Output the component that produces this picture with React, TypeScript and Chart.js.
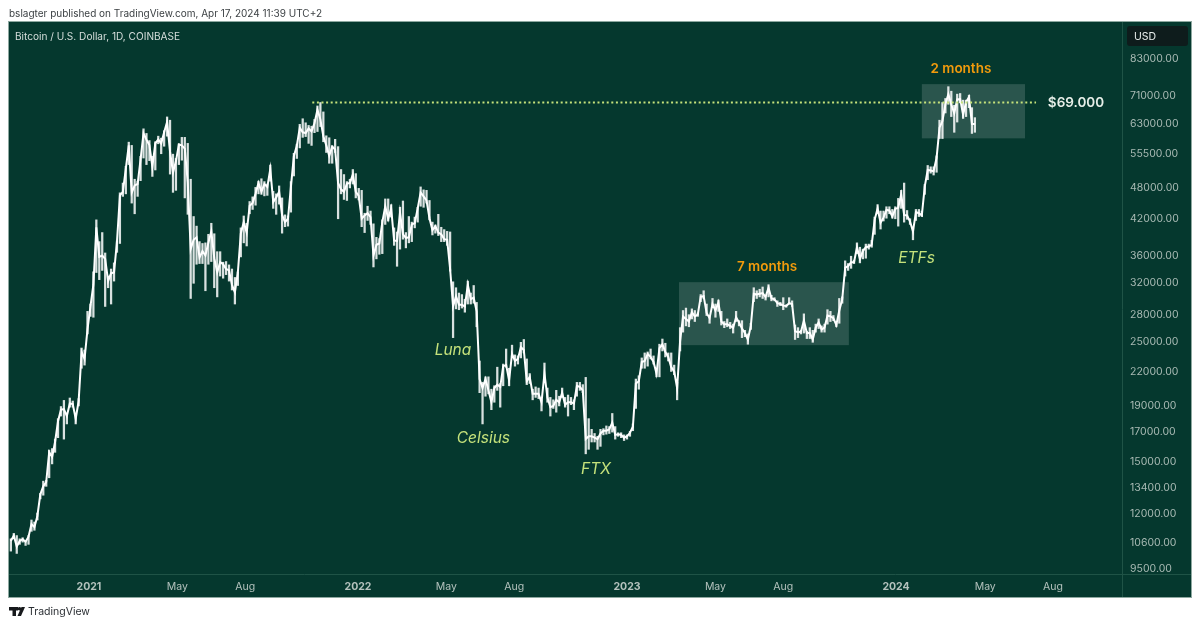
import { useEffect, useRef } from 'react'
import { Chart, registerables } from 'chart.js'

Chart.register(...registerables)

const FONT = 'Inter, "Liberation Sans", sans-serif'
const BG = '#05382e'

// days counted from 2021-01-01, one bar every 4 days, centred on its 4-day bin
const firstDay = -106
const stepDays = 4

const lows = [
  10250, 10800, 10150, 10550, 10650, 10500, 10550, 11150, 11200, 11700, 12800, 13000,
  13500, 14000, 14850, 15600, 16600, 18200, 16500, 17600, 18900, 18900, 17600, 19000, 22300, 22600, 25800, 27800,
  27700, 33500, 32500, 33800, 29000, 31400, 29300, 32300, 36500, 37900, 46300, 46800, 53000, 45000, 43000,
  46300, 49500, 54500, 53000, 53900, 50400, 51800, 57900, 55500, 57300, 59800,
  50900, 47100, 47500, 53000, 54000, 46000, 42900, 30000, 32000, 34700,
  34800, 34800, 31000, 34700, 35100, 31400, 30200, 33000,
  32700, 33200, 32300, 31100, 29300, 31700, 35800, 38000,
  37500, 43000, 43800, 44600, 46800, 46700, 46400,
  46500, 49400, 44000, 42900, 44800, 39600, 40700, 40800,
  43300, 50500, 54400, 56900, 59500, 59700, 58000, 57500,
  60700, 61000, 62300, 58400, 55800, 53300, 53300, 55800,
  42100, 46800, 45700, 45500, 48000, 48800, 46000,
  45600, 40700, 39700, 41800, 41100, 34300, 35500, 36200,
  36300, 41100, 41700, 42400, 37600, 34400, 37000,
  38600, 37200, 38000, 38200, 40500, 41500, 44400,
  44200, 45000, 41900, 39300, 39600, 39200, 38200, 38200,
  37600, 33700, 25400, 28700, 28600, 28800, 28300, 29300,
  29300, 29400, 26600, 20100, 17600, 19800, 20000,
  18700, 19300, 20300, 18900, 20700, 22400, 20700, 23400,
  22500, 22700, 23300, 23800, 20800, 20900, 19500, 19700,
  19600, 18600, 21000, 19300, 18200, 18800, 18500,
  19000, 19700, 18900, 18200, 19100, 18700, 19800, 20300,
  20100, 15500, 15800, 16300, 16300, 15800, 16000,
  16800, 16850, 16900, 17000, 16500, 16700, 16600, 16400,
  16500, 16700, 17100, 18800, 20400, 22300, 22300, 22500,
  23200, 22700, 21500, 21500, 24000, 23400, 23000,
  22000, 21700, 19500, 24000, 26000, 26700, 26600, 27500,
  27200, 27800, 29600, 30000, 27900, 27000, 28900,
  27700, 28400, 26800, 26500, 26600, 26400, 25900, 27200,
  26700, 25400, 25500, 24700, 26300, 29600, 30000,
  30200, 30000, 29800, 30200, 29700, 29700, 29000, 29100,
  28600, 28900, 29300, 29000, 25200, 25400, 25800, 25900,
  25300, 25300, 24900, 26000, 26400, 26000, 26000,
  26900, 27200, 27300, 26600, 27000, 29400, 33000, 33800,
  34100, 34800, 36300, 34900, 35500, 35600, 37000, 37300,
  39400, 43000, 40300, 41700, 42200, 43000, 42200,
  42100, 40800, 44000, 41500, 42000, 41100, 38500, 41800,
  42500, 42500, 46700, 49700, 51100, 50700, 51300,
  59200, 59200, 66000, 68500, 65000, 60800, 63500, 68900,
  64500, 65000, 67500, 60500, 60800,
]

const highs = [
  10800, 11050, 10950, 10800, 10850, 10700, 10950, 11700, 11600, 12050, 13100, 13800,
  13850, 15750, 15850, 16500, 18000, 18950, 19450, 18300, 19650, 19400, 18300, 19600, 24300, 24100, 28400, 29300,
  33600, 41900, 38200, 39700, 36400, 33000, 34000, 34900, 38300, 47000, 49000, 52600, 58300, 57500, 49800,
  49400, 54900, 61700, 60500, 58700, 54900, 58400, 59800, 59300, 61200, 64900,
  64000, 55400, 54400, 57900, 59500, 59500, 58000, 49800, 42500, 40800,
  38200, 37900, 38000, 39400, 41300, 39500, 36600, 36600,
  35000, 35100, 34600, 34000, 32800, 33600, 40500, 42600,
  41300, 45300, 46200, 48100, 49400, 49900, 49300,
  48800, 52900, 47300, 46800, 48400, 46000, 42800, 42600,
  49300, 55600, 57800, 62900, 64400, 63300, 62600, 62400,
  64200, 68000, 69000, 66300, 59900, 59400, 57400, 59000,
  57200, 51900, 50800, 49300, 49800, 51900, 51000,
  47900, 47500, 43100, 44400, 43500, 41200, 38900, 38700,
  41900, 45800, 45800, 44700, 40500, 39800, 44200,
  45400, 39700, 42500, 41500, 42400, 44200, 48200,
  47600, 47500, 45500, 41500, 41000, 42900, 40600, 40200,
  39900, 39800, 32200, 31400, 30700, 30500, 29900, 32300,
  30700, 31700, 29500, 23000, 21000, 21500, 21500,
  20400, 20700, 22400, 20900, 22700, 24200, 22300, 24600,
  23600, 23500, 24900, 25200, 23200, 21800, 20400, 20600,
  20500, 19500, 22800, 20500, 19700, 19500, 20300,
  19800, 20500, 19700, 19900, 19700, 19500, 21000, 21000,
  20800, 21450, 18000, 17200, 16900, 16700, 17200,
  17250, 17450, 17400, 18400, 17400, 16950, 16950, 16800,
  16800, 17050, 17600, 21300, 21600, 23300, 23800, 23900,
  24200, 23500, 22100, 24700, 25250, 24800, 23800,
  23800, 22600, 21000, 26500, 28500, 28800, 28000, 28700,
  28500, 28200, 30500, 31000, 29300, 27900, 30000,
  29300, 29800, 28400, 27200, 27500, 27100, 26900, 28400,
  27300, 27300, 26200, 25800, 27000, 31400, 31000,
  31200, 31500, 30400, 31800, 30400, 30100, 29700, 29500,
  30100, 29200, 30100, 29700, 26800, 26500, 26200, 28100,
  26100, 26500, 26200, 26900, 27500, 26700, 26900,
  28600, 28400, 27900, 27000, 30000, 30200, 35200, 34800,
  35900, 35300, 38000, 37300, 37000, 37800, 37800, 38400,
  42400, 44700, 43500, 43500, 44300, 44300, 43800,
  44300, 45900, 47500, 49000, 43600, 42100, 40500, 43800,
  43800, 43500, 48700, 52800, 52500, 52500, 55000,
  64000, 69000, 70200, 73800, 72400, 68200, 71500, 71700,
  69700, 69700, 71200, 67500, 64700,
]

const closes = [
  10700, 10950, 10450, 10700, 10780, 10670, 10900, 11500, 11350, 11900, 13050, 13500,
  13750, 15600, 15300, 16300, 17800, 18700, 18750, 18200, 19200, 19150, 18000, 19400, 23900, 23200, 26300, 29000,
  31800, 40600, 35800, 36000, 35500, 32300, 33400, 33500, 38200, 46500, 47200, 52100, 57500, 47000, 48500,
  48800, 54200, 60500, 58900, 57600, 52500, 58000, 59000, 58000, 60800, 63500,
  56000, 51200, 53800, 57700, 57500, 56700, 49200, 37000, 38500, 38900,
  35700, 36700, 36000, 38000, 39900, 35600, 33500, 35000,
  34700, 34000, 33800, 31800, 30800, 33500, 39500, 41500,
  39700, 44500, 45000, 46800, 49000, 47200, 48800,
  48200, 52000, 45200, 46100, 47200, 42800, 41500, 42100,
  48200, 54900, 57400, 62000, 60800, 60600, 61800, 61000,
  63200, 66900, 64200, 59800, 57500, 55000, 57200, 56500,
  49000, 47700, 47200, 48900, 49000, 50800, 47200,
  46400, 42100, 42700, 43100, 42400, 36000, 37700, 37900,
  41500, 44400, 42100, 44000, 38400, 38300, 43200,
  39400, 38800, 38900, 41100, 41300, 44000, 47100,
  46300, 45500, 42200, 40100, 40800, 39700, 39400, 38600,
  38500, 34000, 29000, 30300, 29200, 29200, 29000, 31800,
  29900, 30100, 28400, 21300, 20500, 21300, 20300,
  19300, 20500, 20800, 20600, 22500, 22600, 21200, 23700,
  23000, 23200, 24400, 24100, 21100, 21500, 20000, 20000,
  20000, 19300, 21800, 19700, 18900, 19000, 19500,
  19300, 20100, 19100, 19300, 19300, 19200, 20700, 20600,
  20300, 16500, 16700, 16700, 16600, 16500, 16900,
  17100, 17100, 17200, 17700, 16800, 16850, 16800, 16600,
  16700, 16950, 17400, 20900, 21100, 22900, 23000, 23700,
  23400, 22900, 21800, 24300, 24700, 23900, 23400,
  22400, 22000, 20500, 25000, 27800, 27500, 27200, 28300,
  27800, 28000, 30200, 30300, 28200, 27600, 29300,
  28500, 29500, 27200, 26900, 26900, 26700, 26500, 27700,
  27100, 26400, 25900, 25200, 26700, 30600, 30500,
  30600, 30700, 30200, 31400, 30000, 29900, 29400, 29300,
  29100, 29050, 29400, 29300, 26100, 26000, 26050, 27300,
  25900, 25900, 25200, 26500, 27100, 26300, 26500,
  27900, 27800, 27600, 26800, 28500, 29900, 34200, 34400,
  35000, 35000, 37300, 35500, 36700, 37300, 37400, 37700,
  41900, 44000, 41400, 42300, 43700, 43600, 42500,
  43900, 44100, 46700, 42800, 42700, 41600, 39900, 43300,
  43100, 42700, 48300, 51800, 51700, 51500, 54500,
  62000, 63800, 68500, 71500, 68400, 65900, 69900, 70000,
  65500, 69100, 70600, 63000, 63000,
]

const xTickDays = [0, 120, 212, 365, 485, 577, 730, 850, 942, 1095, 1216, 1308]
const xTickLabels = ['2021', 'May', 'Aug', '2022', 'May', 'Aug', '2023', 'May', 'Aug', '2024', 'May', 'Aug']

const yTicks = [83000, 71000, 63000, 55500, 48000, 42000, 36000, 32000, 28000, 25000, 22000, 19000, 17000, 15000, 13400, 12000, 10600, 9500]

// from day, to day, top price, bottom price
const rangeBoxes = [
  [800.5, 1031, 32150, 24600],
  [1130, 1270, 74600, 59250],
]

const levelPrice = 69000
const levelDays = [303, 1285]

const notes = [
  { text: '2 months', day: 1183, price: 79500, color: '#f29b0c', font: `600 13.5px ${FONT}`, align: 'center' },
  { text: '7 months', day: 920, price: 34350, color: '#f29b0c', font: `600 13.5px ${FONT}`, align: 'center' },
  { text: '$69.000', day: 1301, price: 69000, color: '#e8efe9', font: `600 13.5px ${FONT}`, align: 'left' },
  { text: 'Luna', day: 469, price: 24050, color: '#c5e27b', font: `italic 15.5px ${FONT}`, align: 'left' },
  { text: 'Celsius', day: 499, price: 16520, color: '#c5e27b', font: `italic 15.5px ${FONT}`, align: 'left' },
  { text: 'FTX', day: 667.6, price: 14490, color: '#c5e27b', font: `italic 15.5px ${FONT}`, align: 'left' },
  { text: 'ETFs', day: 1098, price: 35550, color: '#c5e27b', font: `italic 15.5px ${FONT}`, align: 'left' },
]

const framePlugin = {
  id: 'frame',
  beforeDraw(chart: any) {
    const c = chart.ctx
    const { chartArea } = chart
    c.save()
    c.fillStyle = '#fff'
    c.fillRect(0, 0, 1200, 627)
    c.fillStyle = BG
    c.fillRect(9, 22, 1182, 575)
    c.strokeStyle = '#8ea8a0'
    c.lineWidth = 1
    c.strokeRect(8.5, 21.5, 1183, 576)
    c.strokeStyle = '#1f5346'
    c.beginPath()
    c.moveTo(chartArea.right + 0.5, 22)
    c.lineTo(chartArea.right + 0.5, 597)
    c.moveTo(9, chartArea.bottom + 0.5)
    c.lineTo(1191, chartArea.bottom + 0.5)
    c.stroke()

    c.textBaseline = 'middle'
    c.fillStyle = '#3c4144'
    c.font = `10px ${FONT}`
    c.fillText('bslagter published on TradingView.com, Apr 17, 2024 11:39 UTC+2', 9, 14)
    c.fillStyle = '#d5dedb'
    c.font = `10.1px ${FONT}`
    c.fillText('Bitcoin / U.S. Dollar, 1D, COINBASE', 15, 36.5)

    // USD button
    c.fillStyle = '#0e1c1c'
    c.beginPath()
    c.roundRect(1127, 26, 61, 20, 3)
    c.fill()
    c.fillStyle = '#e8eeec'
    c.font = `10.5px ${FONT}`
    c.fillText('USD', 1134, 36.5)

    // footer logo
    c.fillStyle = '#17191c'
    c.fillRect(9, 607, 9, 3.5)
    c.fillRect(12.5, 607, 3.5, 9)
    c.beginPath()
    c.arc(19.5, 608.8, 1.8, 0, Math.PI * 2)
    c.fill()
    c.beginPath()
    c.moveTo(21.5, 607)
    c.lineTo(25, 607)
    c.lineTo(21, 616)
    c.lineTo(17.5, 616)
    c.closePath()
    c.fill()
    c.fillStyle = '#2a2e33'
    c.font = `10.5px ${FONT}`
    c.fillText('TradingView', 28, 612)
    c.restore()
  },
  beforeDatasetsDraw(chart: any) {
    const c = chart.ctx
    const { x, y } = chart.scales
    c.save()
    c.fillStyle = 'rgba(255,255,255,0.15)'
    rangeBoxes.forEach(([d0, d1, top, bottom]) => {
      const x0 = x.getPixelForValue(d0)
      const y0 = y.getPixelForValue(top)
      c.fillRect(x0, y0, x.getPixelForValue(d1) - x0, y.getPixelForValue(bottom) - y0)
    })
    c.restore()
  },
  afterDatasetsDraw(chart: any) {
    const c = chart.ctx
    const { x, y } = chart.scales
    c.save()
    c.textBaseline = 'middle'
    notes.forEach(n => {
      c.font = n.font
      c.fillStyle = n.color
      c.textAlign = n.align
      c.fillText(n.text, x.getPixelForValue(n.day), y.getPixelForValue(n.price))
    })
    c.restore()
  },
}

export default function App() {
  const canvasRef = useRef<HTMLCanvasElement>(null)

  useEffect(() => {
    document.body.style.margin = '0'
    if (!canvasRef.current) return
    const chart = new Chart(canvasRef.current, {
      type: 'bar',
      plugins: [framePlugin],
      data: {
        datasets: [
          {
            type: 'line',
            data: levelDays.map(d => ({ x: d, y: levelPrice })),
            borderColor: '#c5e27b',
            borderWidth: 2,
            borderDash: [2, 2.6],
            pointRadius: 0,
            order: 0,
          },
          {
            type: 'line',
            data: closes.map((v, i) => ({ x: firstDay + i * stepDays, y: v })),
            borderColor: '#ffffff',
            borderWidth: 2,
            pointRadius: 0,
            tension: 0,
            order: 1,
          },
          {
            data: lows.map((l, i) => ({ x: firstDay + i * stepDays, y: [l, highs[i]] })),
            backgroundColor: 'rgba(255,255,255,0.85)',
            barThickness: 1.6,
            borderSkipped: false,
            order: 2,
          },
        ] as any,
      },
      options: {
        responsive: false,
        animation: false,
        layout: { padding: { left: 9, top: 22, right: 9, bottom: 30 } },
        plugins: { legend: { display: false }, tooltip: { enabled: false } },
        scales: {
          x: {
            type: 'linear',
            offset: false,
            min: -108.5,
            max: 1401.6,
            grid: { display: false, drawTicks: false },
            border: { display: false },
            afterBuildTicks: (s: any) => { s.ticks = xTickDays.map(value => ({ value })) },
            afterFit: (s: any) => { s.height = 23 },
            ticks: {
              autoSkip: false,
              maxRotation: 0,
              padding: 7,
              color: '#b4c2bd',
              font: (ctx: any) => ({
                family: FONT,
                size: 10.5,
                weight: xTickLabels[ctx.index]?.startsWith('20') ? 'bold' : 'normal',
              }),
              callback: (_v: any, i: number) => xTickLabels[i],
            },
          },
          y: {
            type: 'logarithmic',
            position: 'right',
            min: 9300,
            max: 97160,
            grid: { display: false, drawTicks: false },
            border: { display: false },
            afterBuildTicks: (s: any) => { s.ticks = yTicks.map(value => ({ value })) },
            afterFit: (s: any) => { s.width = 69 },
            ticks: {
              autoSkip: false,
              padding: 8,
              color: '#a9bab4',
              font: { family: FONT, size: 10.5 },
              callback: (v: any) => Number(v).toFixed(2),
            },
          },
        },
      },
    } as any)
    return () => chart.destroy()
  }, [])

  return <canvas ref={canvasRef} width={1200} height={627} style={{ display: 'block' }} />
}
